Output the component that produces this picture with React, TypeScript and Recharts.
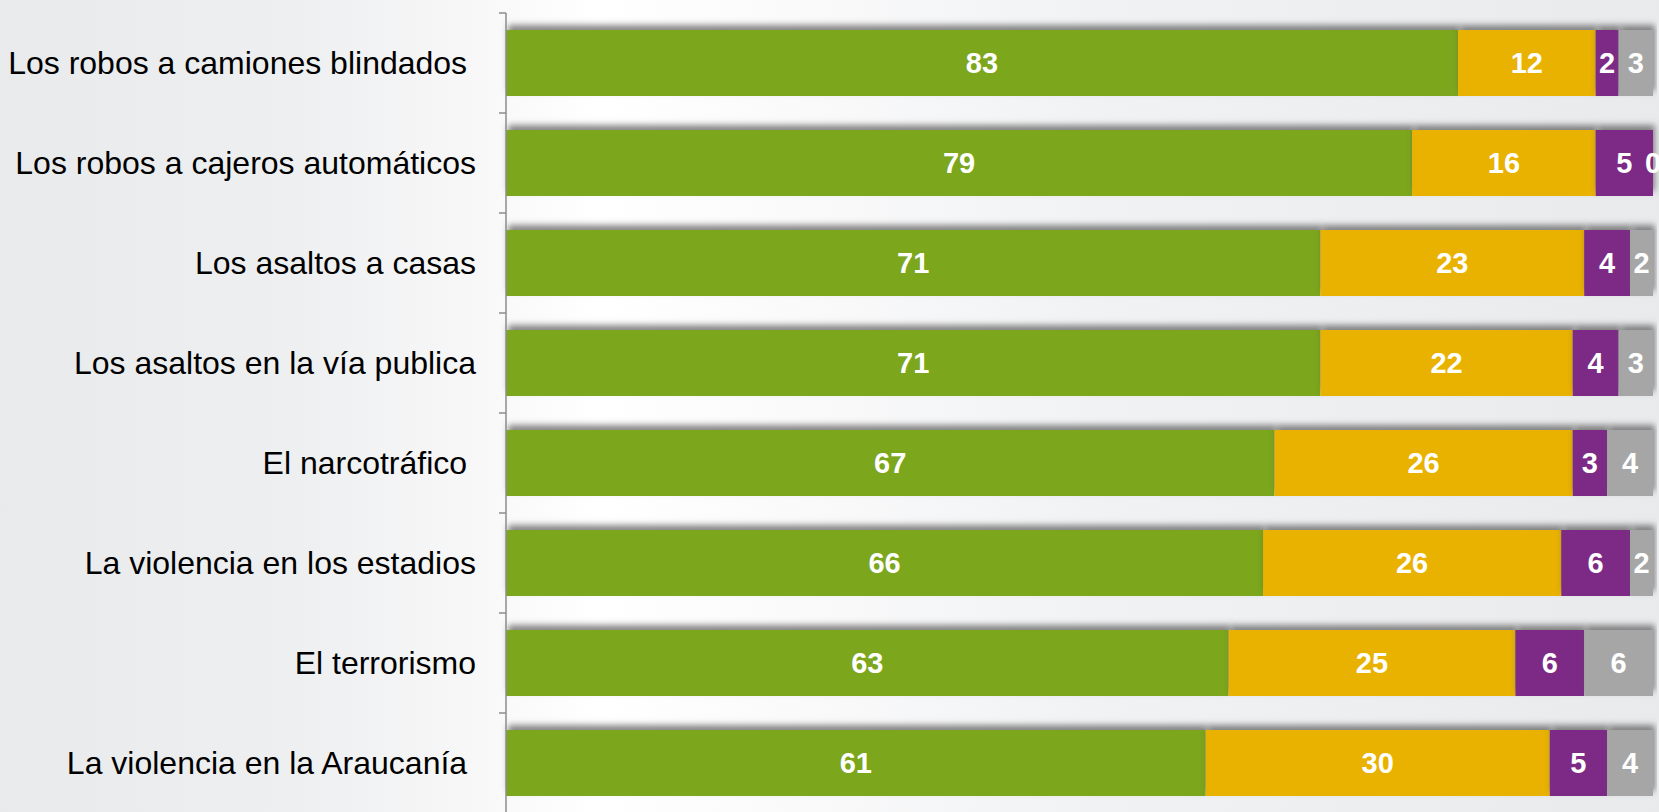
import { BarChart, Bar, XAxis, YAxis, LabelList } from 'recharts';

const categories = [
  'Los robos a camiones blindados ',
  'Los robos a cajeros automáticos',
  'Los asaltos a casas',
  'Los asaltos en la vía publica',
  'El narcotráfico ',
  'La violencia en los estadios',
  'El terrorismo',
  'La violencia en la Araucanía ',
];

const serie1 = [83, 79, 71, 71, 67, 66, 63, 61];
const serie2 = [12, 16, 23, 22, 26, 26, 25, 30];
const serie3 = [2, 5, 4, 4, 3, 6, 6, 5];
const serie4 = [3, 0, 2, 3, 4, 2, 6, 4];

const data = categories.map((name, i) => ({
  name,
  s1: serie1[i],
  s2: serie2[i],
  s3: serie3[i],
  s4: serie4[i],
}));

const FONT = '"Liberation Sans", Arial, sans-serif';
const BAND = 100;

const CategoryTick = (props: any) => {
  const { x, y, payload } = props;
  return (
    <g>
      <line x1={x + 23} x2={x + 30} y1={y - BAND / 2} y2={y - BAND / 2} stroke="#8c8c8c" strokeWidth={1.5} />
      <text
        x={x}
        y={y}
        dy={11}
        textAnchor="end"
        fill="#000"
        fontSize={32}
        fontFamily={FONT}
        style={{ whiteSpace: 'pre' }}
      >
        {payload.value}
      </text>
    </g>
  );
};

const labelStyle = {
  fill: '#fff',
  fontSize: 29,
  fontWeight: 700,
  fontFamily: FONT,
};

const ValueText = ({ cx, cy, value }: { cx: number; cy: number; value: any }) => (
  <text x={cx} y={cy} dy={10} textAnchor="middle" {...labelStyle}>
    {value}
  </text>
);

// the purple label also carries a zero grey value, since recharts skips empty segments
const PurpleLabel = (props: any) => {
  const { x, y, width, height, value, index } = props;
  const cx = x + width / 2;
  const cy = y + height / 2;
  const idx = typeof index === 'number' ? index : -1;
  return (
    <g>
      <ValueText cx={cx} cy={cy} value={value} />
      {idx >= 0 && serie4[idx] === 0 ? <ValueText cx={x + width} cy={cy} value={serie4[idx]} /> : null}
    </g>
  );
};

export default function App() {
  return (
    <div
      style={{
        position: 'absolute',
        left: 0,
        top: 0,
        width: 1659,
        height: 812,
        overflow: 'hidden',
        background:
          'linear-gradient(90deg, #e9eaec 0%, #eeeff0 18%, #f7f7f8 28%, #ffffff 36%, #fbfbfc 46%, #f1f2f3 66%, #e9eaec 100%)',
      }}
    >
      <svg width={0} height={0} style={{ position: 'absolute' }}>
        <defs>
          <filter id="barShadow" x="-5%" y="-40%" width="110%" height="180%">
            <feDropShadow dx={2} dy={-5} stdDeviation={3} floodColor="#555" floodOpacity={0.7} />
          </filter>
        </defs>
      </svg>
      <style>{`.recharts-bar-rectangles { filter: url(#barShadow); }`}</style>
      <BarChart
        width={1659}
        height={813}
        data={data}
        layout="vertical"
        margin={{ top: 13, right: 6, bottom: 0, left: 0 }}
        barSize={66}
      >
        <XAxis type="number" domain={[0, 100]} hide />
        <YAxis
          type="category"
          dataKey="name"
          width={506}
          axisLine={{ stroke: '#8c8c8c', strokeWidth: 1.5 }}
          tickLine={false}
          tick={<CategoryTick />}
          tickMargin={24}
          interval={0}
        />
        <Bar dataKey="s1" stackId="a" fill="#7ca61e" isAnimationActive={false}>
          <LabelList dataKey="s1" position="center" style={labelStyle} />
        </Bar>
        <Bar dataKey="s2" stackId="a" fill="#e9b200" isAnimationActive={false}>
          <LabelList dataKey="s2" position="center" style={labelStyle} />
        </Bar>
        <Bar dataKey="s3" stackId="a" fill="#7b2c86" isAnimationActive={false}>
          <LabelList dataKey="s3" content={<PurpleLabel />} />
        </Bar>
        <Bar dataKey="s4" stackId="a" fill="#a6a6a6" isAnimationActive={false}>
          <LabelList dataKey="s4" position="center" style={labelStyle} />
        </Bar>
      </BarChart>
    </div>
  );
}
